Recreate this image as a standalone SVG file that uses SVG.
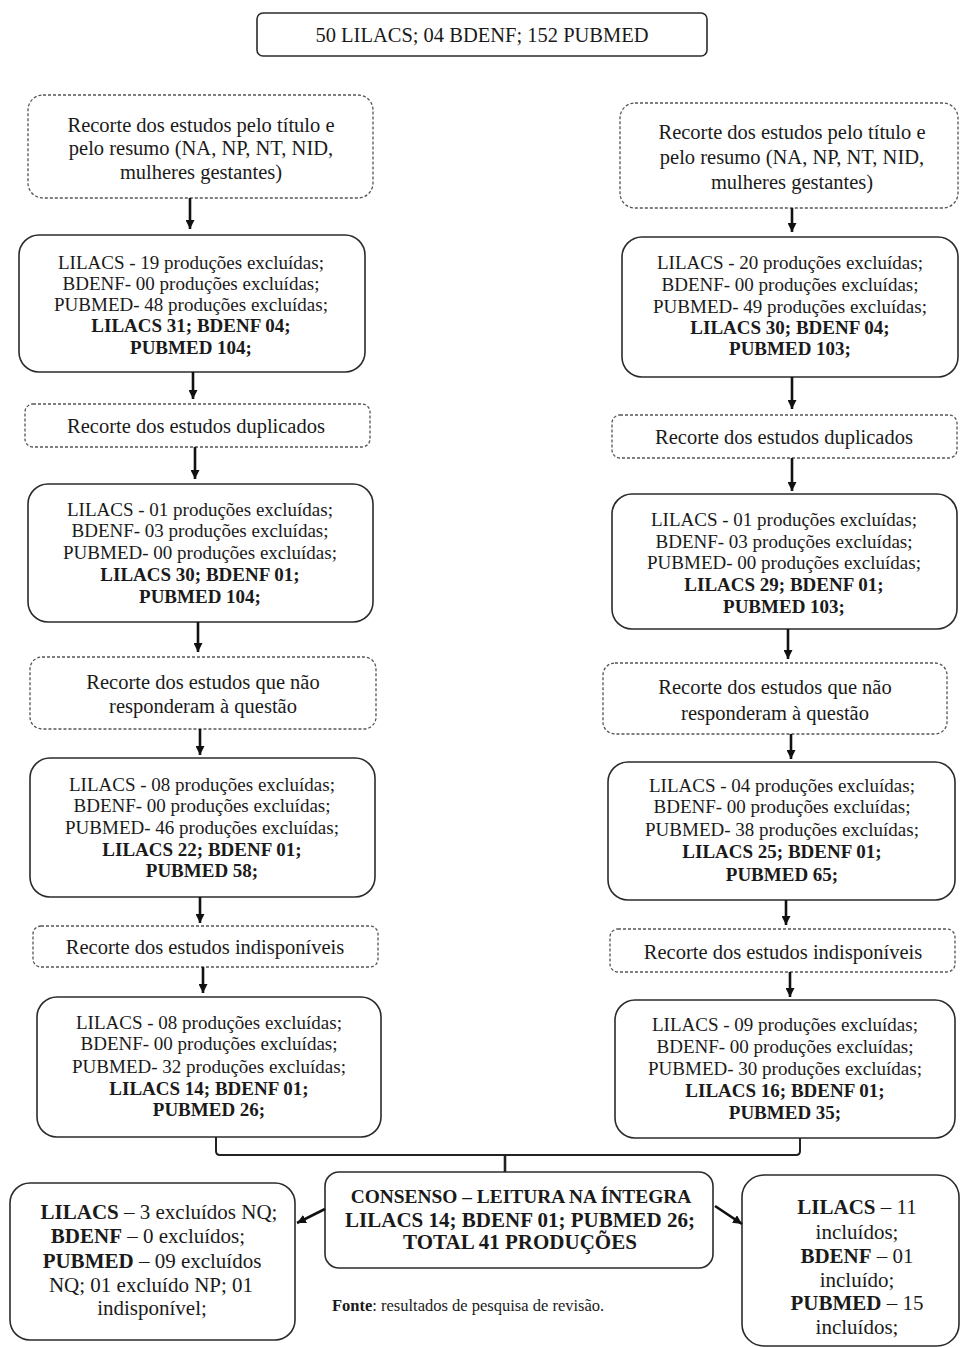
<svg xmlns="http://www.w3.org/2000/svg" width="961" height="1347" viewBox="0 0 961 1347">
<style>
  .bg{fill:#ffffff}
  .solid{fill:#ffffff;stroke:#2b2b2b;stroke-width:1.6}
  .dash{fill:#ffffff;stroke:#555555;stroke-width:1.3;stroke-dasharray:3 2}
  text{font-family:"Liberation Serif","Times New Roman",serif;fill:#1a1a1a;text-anchor:middle}
  .t19{font-size:19px}
  .t20{font-size:20.5px}
  .t21{font-size:21px}
  .b{font-weight:bold}
  .arr{stroke:#111111;stroke-width:2.6;fill:none;marker-end:url(#ah)}
  .ln{stroke:#222222;stroke-width:2;fill:none}
  .src{font-size:16.5px;text-anchor:start}
</style>
<defs>
  <marker id="ah" viewBox="0 0 10 10" refX="10" refY="5" markerWidth="9" markerHeight="9" markerUnits="userSpaceOnUse" orient="auto">
    <path d="M0,0 L10,5 L0,10 z" fill="#111111"/>
  </marker>
</defs>
<rect class="bg" x="0" y="0" width="961" height="1347"/>

<g id="top">
  <rect class="solid" x="257" y="13" width="450" height="43" rx="6"/>
  <text class="t20" x="482" y="42">50 LILACS; 04 BDENF; 152 PUBMED</text>
</g>

<!-- Left column -->
<g id="L1">
  <rect class="dash" x="28" y="95" width="345" height="103" rx="15"/>
  <text class="t20" x="201" y="132">Recorte dos estudos pelo título e</text>
  <text class="t20" x="201" y="155">pelo resumo (NA, NP, NT, NID,</text>
  <text class="t20" x="201" y="179">mulheres gestantes)</text>
</g>
<g id="L2">
  <rect class="solid" x="19" y="235" width="346" height="137" rx="20"/>
  <text class="t19" x="191" y="269">LILACS - 19 produções excluídas;</text>
  <text class="t19" x="191" y="290">BDENF- 00 produções excluídas;</text>
  <text class="t19" x="191" y="311">PUBMED- 48 produções excluídas;</text>
  <text class="t19 b" x="191" y="332">LILACS 31; BDENF 04;</text>
  <text class="t19 b" x="191" y="354">PUBMED 104;</text>
</g>
<g id="L3">
  <rect class="dash" x="25" y="404" width="345" height="43" rx="8"/>
  <text class="t20" x="196" y="433">Recorte dos estudos duplicados</text>
</g>
<g id="L4">
  <rect class="solid" x="28" y="484" width="345" height="138" rx="20"/>
  <text class="t19" x="200" y="516">LILACS - 01 produções excluídas;</text>
  <text class="t19" x="200" y="537">BDENF- 03 produções excluídas;</text>
  <text class="t19" x="200" y="559">PUBMED- 00 produções excluídas;</text>
  <text class="t19 b" x="200" y="581">LILACS 30; BDENF 01;</text>
  <text class="t19 b" x="200" y="603">PUBMED 104;</text>
</g>
<g id="L5">
  <rect class="dash" x="30" y="657" width="346" height="72" rx="12"/>
  <text class="t20" x="203" y="689">Recorte dos estudos que não</text>
  <text class="t20" x="203" y="713">responderam à questão</text>
</g>
<g id="L6">
  <rect class="solid" x="30" y="758" width="345" height="139" rx="20"/>
  <text class="t19" x="202" y="791">LILACS - 08 produções excluídas;</text>
  <text class="t19" x="202" y="812">BDENF- 00 produções excluídas;</text>
  <text class="t19" x="202" y="834">PUBMED- 46 produções excluídas;</text>
  <text class="t19 b" x="202" y="856">LILACS 22; BDENF 01;</text>
  <text class="t19 b" x="202" y="877">PUBMED 58;</text>
</g>
<g id="L7">
  <rect class="dash" x="33" y="926" width="345" height="41" rx="8"/>
  <text class="t20" x="205" y="954">Recorte dos estudos indisponíveis</text>
</g>
<g id="L8">
  <rect class="solid" x="37" y="997" width="344" height="140" rx="20"/>
  <text class="t19" x="209" y="1029">LILACS - 08 produções excluídas;</text>
  <text class="t19" x="209" y="1050">BDENF- 00 produções excluídas;</text>
  <text class="t19" x="209" y="1073">PUBMED- 32 produções excluídas;</text>
  <text class="t19 b" x="209" y="1095">LILACS 14; BDENF 01;</text>
  <text class="t19 b" x="209" y="1116">PUBMED 26;</text>
</g>

<!-- Right column -->
<g id="R1">
  <rect class="dash" x="620" y="103" width="338" height="105" rx="15"/>
  <text class="t20" x="792" y="139">Recorte dos estudos pelo título e</text>
  <text class="t20" x="792" y="164">pelo resumo (NA, NP, NT, NID,</text>
  <text class="t20" x="792" y="189">mulheres gestantes)</text>
</g>
<g id="R2">
  <rect class="solid" x="622" y="237" width="336" height="140" rx="20"/>
  <text class="t19" x="790" y="269">LILACS - 20 produções excluídas;</text>
  <text class="t19" x="790" y="291">BDENF- 00 produções excluídas;</text>
  <text class="t19" x="790" y="313">PUBMED- 49 produções excluídas;</text>
  <text class="t19 b" x="790" y="334">LILACS 30; BDENF 04;</text>
  <text class="t19 b" x="790" y="355">PUBMED 103;</text>
</g>
<g id="R3">
  <rect class="dash" x="612" y="415" width="345" height="43" rx="8"/>
  <text class="t20" x="784" y="444">Recorte dos estudos duplicados</text>
</g>
<g id="R4">
  <rect class="solid" x="612" y="494" width="345" height="135" rx="20"/>
  <text class="t19" x="784" y="526">LILACS - 01 produções excluídas;</text>
  <text class="t19" x="784" y="548">BDENF- 03 produções excluídas;</text>
  <text class="t19" x="784" y="569">PUBMED- 00 produções excluídas;</text>
  <text class="t19 b" x="784" y="591">LILACS 29; BDENF 01;</text>
  <text class="t19 b" x="784" y="613">PUBMED 103;</text>
</g>
<g id="R5">
  <rect class="dash" x="603" y="663" width="344" height="71" rx="12"/>
  <text class="t20" x="775" y="694">Recorte dos estudos que não</text>
  <text class="t20" x="775" y="720">responderam à questão</text>
</g>
<g id="R6">
  <rect class="solid" x="608" y="762" width="347" height="138" rx="20"/>
  <text class="t19" x="782" y="792">LILACS - 04 produções excluídas;</text>
  <text class="t19" x="782" y="813">BDENF- 00 produções excluídas;</text>
  <text class="t19" x="782" y="836">PUBMED- 38 produções excluídas;</text>
  <text class="t19 b" x="782" y="858">LILACS 25; BDENF 01;</text>
  <text class="t19 b" x="782" y="881">PUBMED 65;</text>
</g>
<g id="R7">
  <rect class="dash" x="610" y="929" width="345" height="43" rx="8"/>
  <text class="t20" x="783" y="959">Recorte dos estudos indisponíveis</text>
</g>
<g id="R8">
  <rect class="solid" x="615" y="1000" width="340" height="138" rx="20"/>
  <text class="t19" x="785" y="1031">LILACS - 09 produções excluídas;</text>
  <text class="t19" x="785" y="1053">BDENF- 00 produções excluídas;</text>
  <text class="t19" x="785" y="1075">PUBMED- 30 produções excluídas;</text>
  <text class="t19 b" x="785" y="1097">LILACS 16; BDENF 01;</text>
  <text class="t19 b" x="785" y="1119">PUBMED 35;</text>
</g>

<!-- Bottom -->
<g id="consenso">
  <rect class="solid" x="325" y="1172" width="388" height="96" rx="14"/>
  <text class="b" x="521" y="1203" style="font-size:19.4px">CONSENSO – LEITURA NA ÍNTEGRA</text>
  <text class="t21 b" x="520" y="1227">LILACS 14; BDENF 01; PUBMED 26;</text>
  <text class="t21 b" x="520" y="1249">TOTAL 41 PRODUÇÕES</text>
</g>
<g id="excluidos">
  <rect class="solid" x="10" y="1183" width="285" height="157" rx="20"/>
  <text class="t21" x="159" y="1219"><tspan class="b">LILACS</tspan> – 3 excluídos NQ;</text>
  <text class="t21" x="148" y="1243"><tspan class="b">BDENF</tspan> – 0 excluídos;</text>
  <text class="t21" x="152" y="1268"><tspan class="b">PUBMED</tspan> – 09 excluídos</text>
  <text class="t21" x="151" y="1292">NQ; 01 excluído NP; 01</text>
  <text class="t21" x="152" y="1315">indisponível;</text>
</g>
<g id="incluidos">
  <rect class="solid" x="742" y="1175" width="217" height="171" rx="22"/>
  <text class="t21" x="857" y="1214"><tspan class="b">LILACS</tspan> – 11</text>
  <text class="t21" x="857" y="1239">incluídos;</text>
  <text class="t21" x="857" y="1263"><tspan class="b">BDENF</tspan> – 01</text>
  <text class="t21" x="857" y="1287">incluído;</text>
  <text class="t21" x="857" y="1310"><tspan class="b">PUBMED</tspan> – 15</text>
  <text class="t21" x="857" y="1334">incluídos;</text>
</g>
<g id="fonte">
  <text class="src" x="332" y="1311"><tspan class="b">Fonte</tspan>: resultados de pesquisa de revisão.</text>
</g>

<g id="connectors">
  <line class="arr" x1="190" y1="198" x2="190" y2="229"/>
  <line class="arr" x1="193" y1="372" x2="193" y2="399"/>
  <line class="arr" x1="195" y1="447" x2="195" y2="479"/>
  <line class="arr" x1="198" y1="622" x2="198" y2="652"/>
  <line class="arr" x1="200" y1="729" x2="200" y2="755"/>
  <line class="arr" x1="200" y1="897" x2="200" y2="923"/>
  <line class="arr" x1="203" y1="967" x2="203" y2="993"/>

  <line class="arr" x1="792" y1="208" x2="792" y2="232"/>
  <line class="arr" x1="792" y1="377" x2="792" y2="409"/>
  <line class="arr" x1="792" y1="458" x2="792" y2="491"/>
  <line class="arr" x1="788" y1="629" x2="788" y2="659"/>
  <line class="arr" x1="791" y1="734" x2="791" y2="759"/>
  <line class="arr" x1="786" y1="900" x2="786" y2="925"/>
  <line class="arr" x1="790" y1="972" x2="790" y2="997"/>

  <path class="ln" d="M216,1137 L216,1151 Q216,1155 220,1155 L796,1155 Q800,1155 800,1151 L800,1138"/>
  <line class="ln" x1="505" y1="1155" x2="505" y2="1172" style="stroke-width:2.6"/>

  <line class="arr" x1="325" y1="1209" x2="297" y2="1223"/>
  <line class="arr" x1="715" y1="1206" x2="742" y2="1224"/>
</g>
</svg>
